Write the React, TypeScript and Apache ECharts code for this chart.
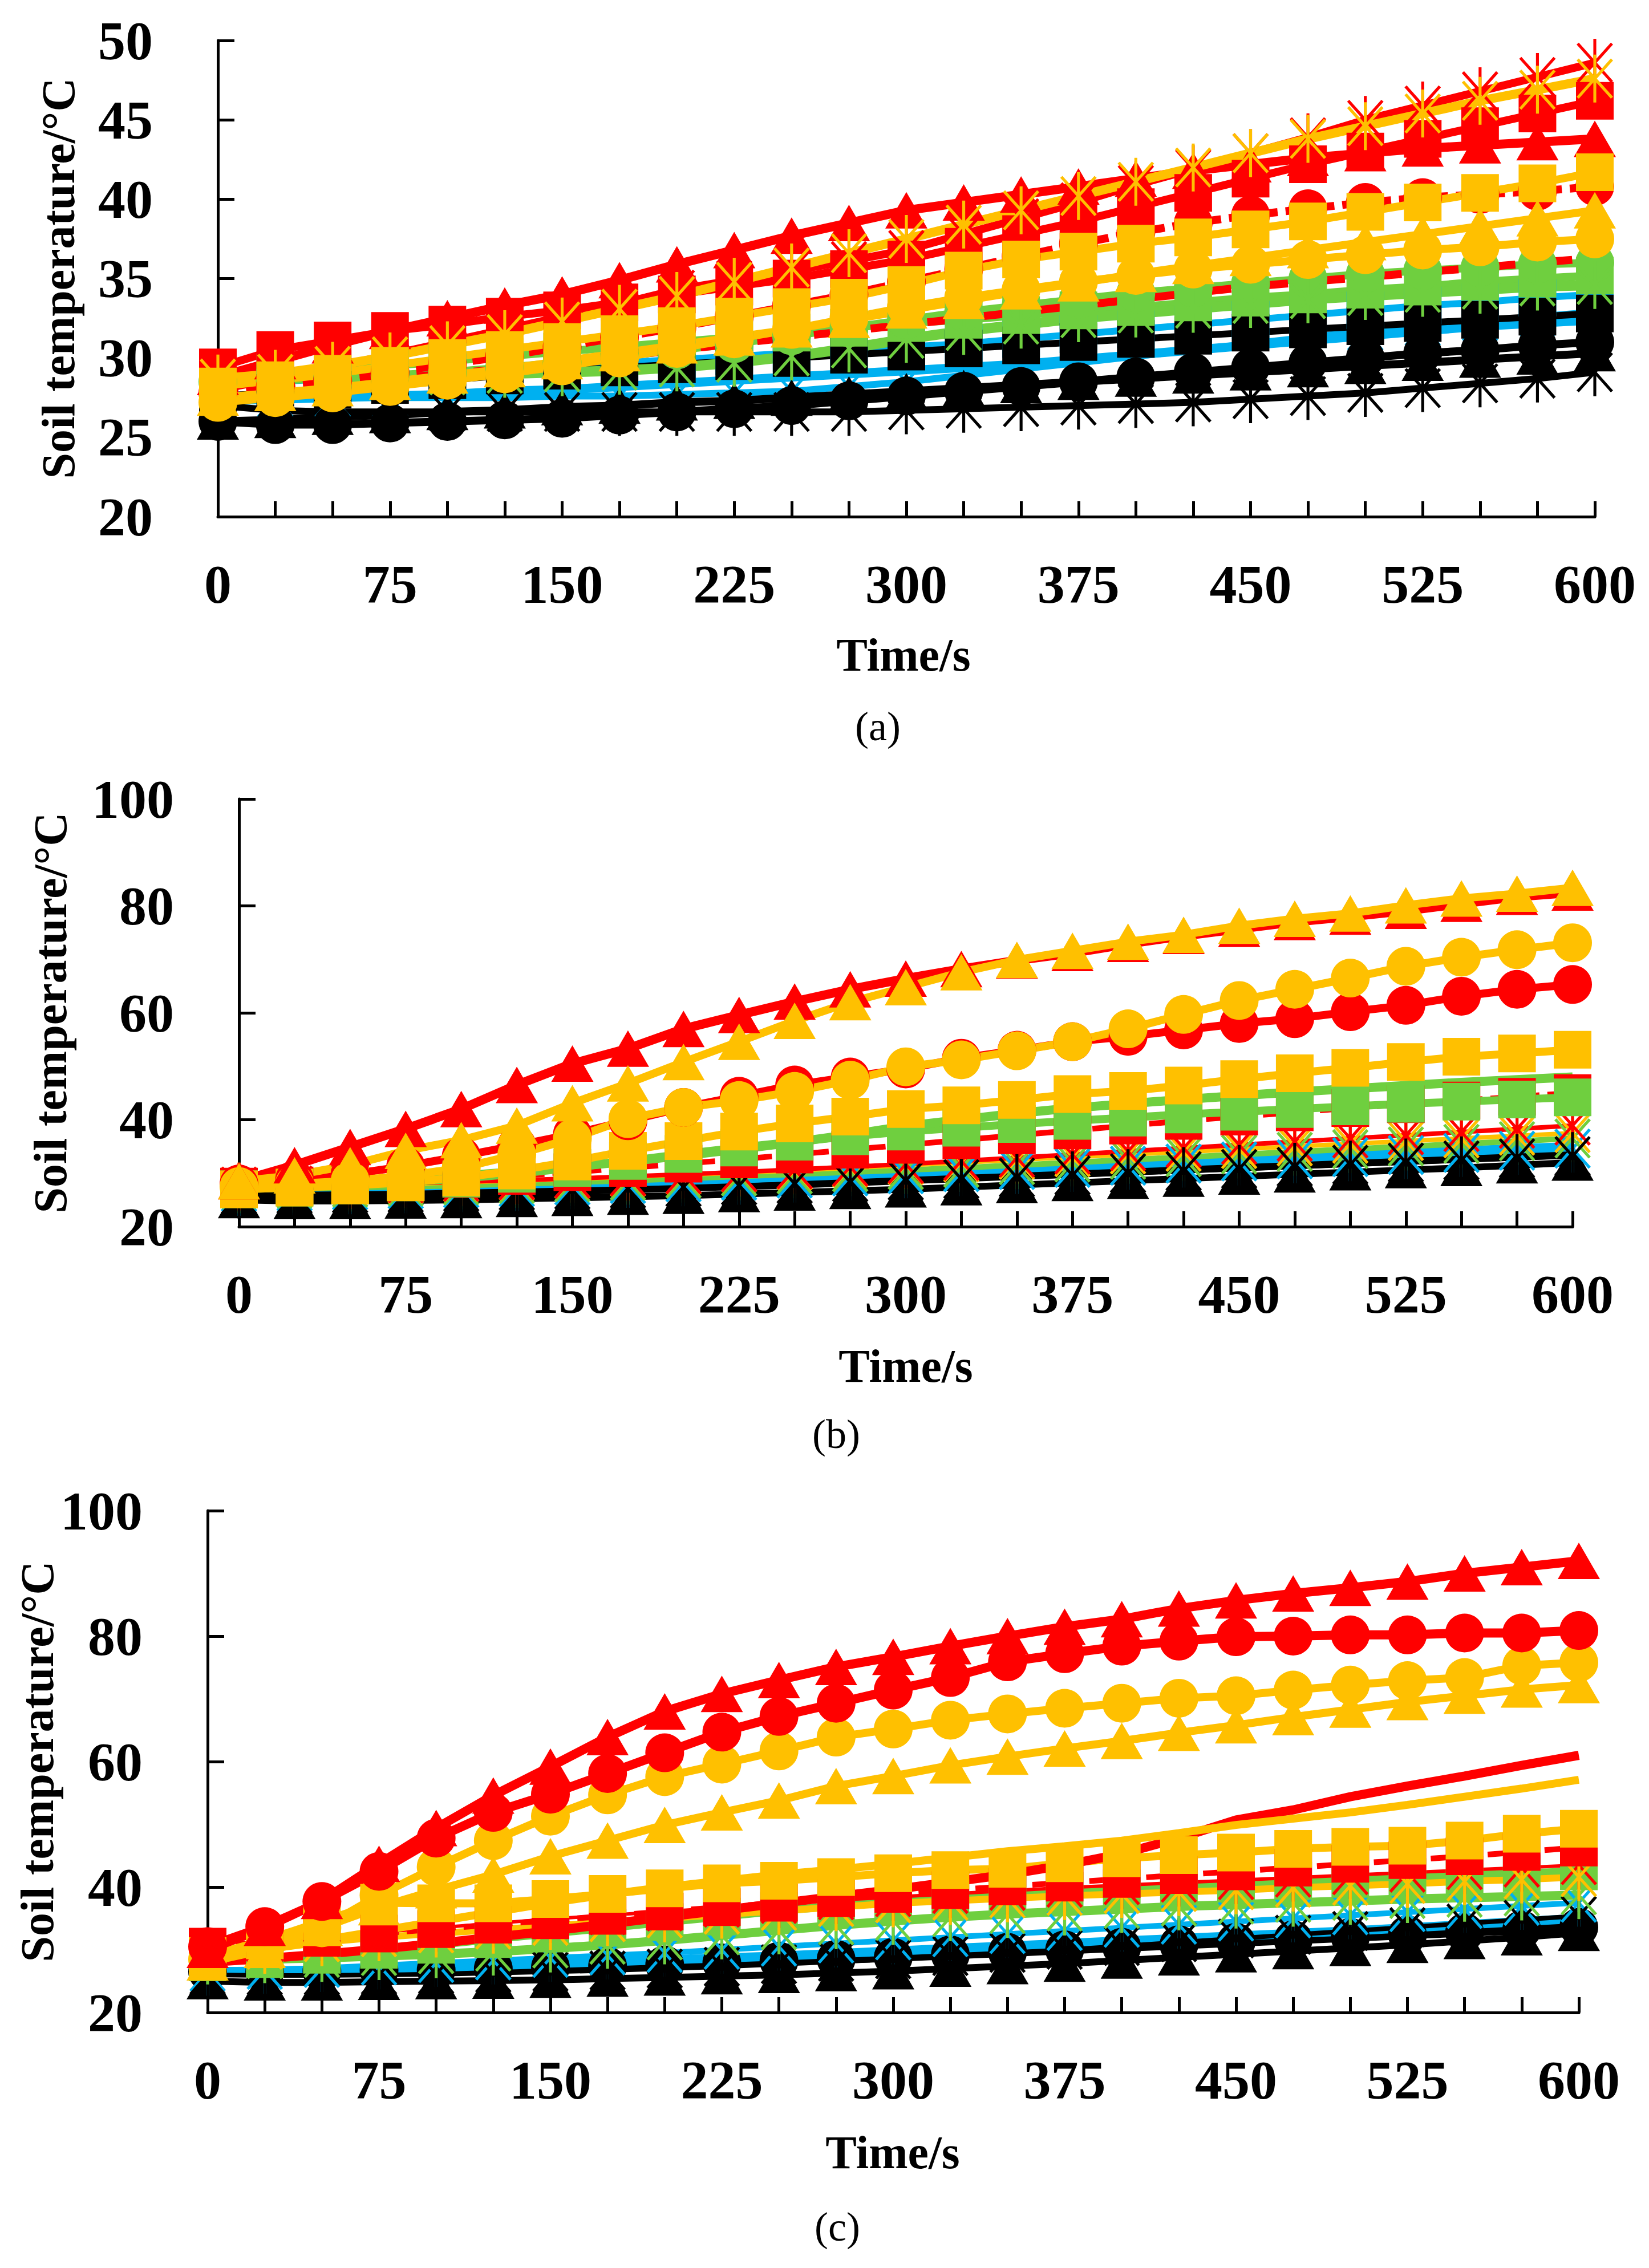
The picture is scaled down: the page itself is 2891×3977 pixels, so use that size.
import React, { useEffect, useRef } from 'react';
import * as echarts from 'echarts';

// sampling times (s), one marker every 25 s
const TIMES = [0, 25, 50, 75, 100, 125, 150, 175, 200, 225, 250, 275, 300, 325, 350, 375, 400, 425, 450, 475, 500, 525, 550, 575, 600];
const X_LABEL_STEP = 75;

// ---------- panel (a) ----------
const aRedStar = [28.0, 28.7, 29.4, 30.2, 31.0, 31.8, 32.6, 33.4, 34.3, 34.9, 35.5, 36.1, 36.8, 37.8, 38.8, 39.8, 40.9, 41.9, 42.9, 43.9, 45.0, 45.9, 46.8, 47.7, 48.6];
const aYellowStar = [28.7, 29.0, 29.5, 30.1, 30.8, 31.5, 32.3, 33.1, 33.9, 34.8, 35.7, 36.6, 37.5, 38.4, 39.3, 40.2, 41.1, 42.0, 42.9, 43.8, 44.6, 45.4, 46.2, 46.9, 47.6];
const aRedTri = [28.8, 29.8, 30.8, 31.7, 32.5, 33.3, 34.0, 34.9, 35.9, 36.8, 37.7, 38.5, 39.3, 39.8, 40.3, 40.8, 41.3, 41.8, 42.2, 42.6, 42.9, 43.2, 43.4, 43.6, 43.8];
const aRedSquare = [29.4, 30.5, 31.1, 31.7, 32.1, 32.6, 33.0, 33.5, 34.0, 34.5, 35.0, 35.6, 36.2, 37.0, 37.8, 38.6, 39.5, 40.4, 41.3, 42.2, 43.0, 43.8, 44.6, 45.4, 46.2];
const aRedCircle = [27.8, 28.2, 28.6, 29.1, 29.6, 30.1, 30.7, 31.3, 31.9, 32.6, 33.3, 34.0, 34.8, 35.6, 36.4, 37.2, 37.9, 38.5, 39.0, 39.4, 39.8, 40.1, 40.3, 40.5, 40.8];
const aRedDash = [27.8, 28.1, 28.4, 28.7, 29.0, 29.3, 29.7, 30.1, 30.5, 30.9, 31.3, 31.7, 32.1, 32.5, 32.9, 33.3, 33.7, 34.1, 34.5, 34.8, 35.1, 35.4, 35.7, 36.0, 36.3];
const aYellowSquare = [28.2, 28.6, 29.0, 29.5, 30.0, 30.5, 31.0, 31.5, 32.0, 32.6, 33.2, 33.8, 34.6, 35.5, 36.2, 36.7, 37.2, 37.6, 38.1, 38.6, 39.2, 39.8, 40.4, 41.0, 41.7];
const aYellowTri = [27.5, 27.8, 28.1, 28.5, 28.9, 29.3, 29.8, 30.3, 30.8, 31.3, 31.8, 32.4, 33.0, 33.6, 34.2, 34.7, 35.3, 35.8, 36.3, 36.8, 37.3, 37.8, 38.3, 38.8, 39.3];
const aYellowCircle = [27.2, 27.5, 27.8, 28.2, 28.6, 29.0, 29.5, 30.0, 30.6, 31.2, 31.8, 32.5, 33.2, 33.8, 34.3, 34.8, 35.2, 35.6, 35.9, 36.2, 36.5, 36.8, 37.0, 37.3, 37.5];
const aGreenCircle = [28.5, 28.6, 28.7, 28.9, 29.1, 29.4, 29.7, 30.1, 30.5, 30.9, 31.4, 31.9, 32.4, 32.9, 33.3, 33.7, 34.1, 34.4, 34.7, 35.0, 35.3, 35.5, 35.7, 35.9, 36.0];
const aGreenSquare = [29.0, 29.1, 29.3, 29.5, 29.8, 30.1, 30.4, 30.7, 31.0, 31.3, 31.6, 31.9, 32.2, 32.4, 32.7, 33.0, 33.2, 33.5, 33.8, 34.0, 34.3, 34.5, 34.8, 35.0, 35.2];
const aGreenStar = [28.7, 28.7, 28.8, 28.8, 28.9, 29.0, 29.1, 29.2, 29.4, 29.7, 30.1, 30.6, 31.2, 31.7, 32.1, 32.5, 32.8, 33.1, 33.4, 33.7, 33.9, 34.1, 34.3, 34.5, 34.6];
const aBlueSquare = [28.3, 28.5, 28.7, 28.9, 29.1, 29.3, 29.5, 29.7, 29.9, 30.1, 30.3, 30.5, 30.7, 30.9, 31.2, 31.5, 31.8, 32.1, 32.4, 32.7, 33.0, 33.3, 33.5, 33.8, 34.0];
const aBlueStar = [27.5, 27.5, 27.5, 27.5, 27.5, 27.5, 27.6, 27.6, 27.7, 27.8, 27.9, 28.2, 28.5, 28.9, 29.3, 29.7, 30.1, 30.5, 30.9, 31.3, 31.7, 32.0, 32.3, 32.6, 32.9];
const aBlueLine = [27.3, 27.4, 27.5, 27.6, 27.7, 27.9, 28.0, 28.2, 28.4, 28.6, 28.8, 29.0, 29.2, 29.4, 29.6, 29.9, 30.2, 30.5, 30.8, 31.1, 31.4, 31.7, 32.0, 32.2, 32.4];
const aBlackSquare = [27.6, 27.8, 28.0, 28.3, 28.6, 28.9, 29.2, 29.4, 29.6, 29.8, 30.0, 30.2, 30.4, 30.6, 30.8, 31.0, 31.2, 31.4, 31.6, 31.8, 32.0, 32.2, 32.4, 32.6, 32.8];
const aBlackCircle = [26.0, 25.8, 25.8, 25.9, 26.0, 26.1, 26.2, 26.4, 26.6, 26.8, 27.0, 27.3, 27.6, 27.9, 28.2, 28.5, 28.8, 29.1, 29.4, 29.7, 30.0, 30.3, 30.5, 30.8, 31.0];
const aBlackTri = [26.0, 26.1, 26.3, 26.4, 26.6, 26.7, 26.9, 27.0, 27.2, 27.3, 27.5, 27.7, 27.9, 28.1, 28.3, 28.5, 28.7, 28.9, 29.1, 29.3, 29.5, 29.7, 29.9, 30.1, 30.3];
const aBlackStar = [27.0, 26.7, 26.6, 26.6, 26.6, 26.6, 26.6, 26.6, 26.6, 26.6, 26.6, 26.6, 26.7, 26.8, 26.9, 27.0, 27.1, 27.2, 27.4, 27.6, 27.8, 28.1, 28.4, 28.7, 29.1];

// ---------- panel (b) ----------
const bRedTri = [28.5, 31.5, 34.9, 38.3, 42.0, 46.5, 50.5, 53.3, 57.0, 59.6, 62.1, 64.4, 66.4, 68.2, 69.8, 71.2, 72.9, 74.4, 75.7, 77.0, 78.0, 79.1, 80.4, 81.7, 82.5];
const bYellowTri = [28.5, 29.6, 31.5, 34.2, 36.2, 38.9, 43.1, 46.8, 50.8, 54.6, 58.5, 62.0, 64.8, 67.6, 69.9, 71.6, 73.3, 74.6, 76.3, 77.6, 78.6, 80.1, 81.4, 82.3, 83.4];
const bRedCircle = [28.0, 28.8, 29.8, 31.3, 33.2, 35.2, 37.3, 39.8, 42.3, 44.4, 46.5, 48.0, 49.5, 51.5, 53.0, 54.6, 55.6, 56.8, 58.0, 58.9, 60.2, 61.4, 63.1, 64.4, 65.3];
const bYellowCircle = [27.5, 28.0, 28.6, 29.5, 31.0, 33.5, 36.5, 40.2, 42.3, 43.6, 45.3, 47.4, 49.9, 51.2, 52.9, 54.6, 57.0, 59.7, 62.3, 64.4, 66.5, 68.7, 70.4, 71.8, 73.1];
const bYellowSquare = [27.0, 27.3, 27.7, 28.3, 29.2, 30.5, 32.2, 34.2, 36.0, 37.8, 39.3, 40.6, 42.0, 42.7, 43.7, 44.8, 45.4, 46.4, 47.6, 48.7, 49.7, 50.8, 51.8, 52.4, 53.1];
const bRedSquare = [27.5, 27.7, 28.0, 28.4, 28.9, 29.5, 30.2, 31.0, 31.8, 32.6, 33.5, 34.4, 35.3, 36.2, 37.1, 38.0, 38.9, 39.8, 40.6, 41.4, 42.2, 42.9, 43.6, 44.3, 45.0];
const bGreenLine = [27.5, 27.8, 28.2, 28.8, 29.5, 30.3, 31.2, 32.2, 33.3, 34.5, 35.8, 37.2, 38.8, 40.0, 41.2, 42.2, 43.0, 43.8, 44.5, 45.2, 45.8, 46.4, 47.0, 47.5, 48.0];
const bGreenSquare = [27.0, 27.3, 27.7, 28.3, 29.0, 29.9, 31.0, 32.3, 33.6, 34.8, 35.9, 36.9, 37.8, 38.5, 39.2, 39.8, 40.4, 41.0, 41.5, 42.0, 42.5, 43.0, 43.4, 43.8, 44.2];
const bRedStar = [27.5, 27.7, 27.9, 28.1, 28.4, 28.7, 29.0, 29.4, 29.8, 30.2, 30.7, 31.2, 31.7, 32.3, 32.9, 33.5, 34.1, 34.7, 35.3, 35.9, 36.5, 37.1, 37.7, 38.3, 38.9];
const bYellowStar = [27.5, 27.6, 27.8, 28.0, 28.3, 28.6, 28.9, 29.3, 29.7, 30.1, 30.5, 31.0, 31.5, 32.0, 32.5, 33.0, 33.5, 34.0, 34.5, 35.0, 35.5, 36.0, 36.5, 37.0, 37.5];
const bGreenStar = [27.0, 27.1, 27.3, 27.5, 27.7, 28.0, 28.3, 28.6, 29.0, 29.4, 29.8, 30.2, 30.6, 31.0, 31.5, 32.0, 32.5, 33.0, 33.5, 34.0, 34.5, 35.0, 35.5, 36.0, 36.5];
const bBlueStar = [26.5, 26.6, 26.8, 27.0, 27.2, 27.4, 27.7, 28.0, 28.3, 28.6, 29.0, 29.4, 29.8, 30.2, 30.6, 31.0, 31.4, 31.8, 32.2, 32.6, 33.0, 33.4, 33.8, 34.2, 34.6];
const bBlueLine = [27.0, 27.1, 27.2, 27.4, 27.6, 27.8, 28.1, 28.4, 28.7, 29.0, 29.4, 29.8, 30.2, 30.6, 31.0, 31.4, 31.8, 32.2, 32.6, 33.0, 33.4, 33.8, 34.2, 34.6, 35.0];
const bBlackStar = [26.0, 26.1, 26.2, 26.3, 26.5, 26.7, 26.9, 27.1, 27.4, 27.7, 28.0, 28.3, 28.6, 28.9, 29.2, 29.6, 30.0, 30.4, 30.8, 31.2, 31.6, 32.0, 32.4, 32.8, 33.2];
const bBlackTri = [25.0, 24.8, 24.8, 24.9, 25.0, 25.2, 25.4, 25.6, 25.8, 26.1, 26.4, 26.7, 27.0, 27.4, 27.8, 28.2, 28.6, 29.0, 29.4, 29.8, 30.2, 30.6, 31.0, 31.5, 32.0];
const bBlackLine = [25.8, 25.9, 26.0, 26.2, 26.4, 26.6, 26.8, 27.1, 27.4, 27.7, 28.0, 28.4, 28.8, 29.2, 29.6, 30.0, 30.4, 30.8, 31.2, 31.6, 32.0, 32.4, 32.8, 33.2, 33.6];

// ---------- panel (c) ----------
const cRedTri = [30.0, 33.5, 37.8, 43.7, 49.4, 54.6, 59.2, 63.9, 68.0, 70.8, 73.0, 75.1, 76.7, 78.4, 80.0, 81.5, 82.7, 84.4, 85.7, 86.8, 87.7, 88.7, 90.0, 91.0, 92.0];
const cRedCircle = [30.5, 33.7, 37.7, 42.5, 47.8, 51.9, 54.8, 58.1, 61.4, 64.7, 67.2, 69.3, 71.4, 73.4, 75.9, 77.2, 78.4, 79.2, 79.9, 80.0, 80.2, 80.2, 80.5, 80.5, 80.9];
const cYellowCircle = [28.5, 30.5, 33.5, 38.7, 43.2, 47.4, 51.3, 54.7, 57.6, 59.6, 61.7, 63.9, 65.2, 66.6, 67.6, 68.5, 69.3, 70.1, 70.5, 71.4, 72.2, 72.9, 73.4, 75.3, 75.8];
const cYellowTri = [28.0, 30.0, 33.5, 36.8, 39.5, 42.0, 44.9, 47.4, 49.9, 51.9, 53.8, 56.1, 57.7, 59.4, 60.8, 62.1, 63.3, 64.6, 65.8, 67.1, 68.3, 69.5, 70.5, 71.5, 72.2];
const cRedLine = [28.0, 28.6, 29.3, 30.1, 31.0, 32.0, 33.0, 34.1, 35.2, 36.3, 37.4, 38.5, 39.6, 40.8, 42.0, 43.5, 45.3, 47.8, 50.7, 52.3, 54.4, 56.1, 57.7, 59.4, 61.0];
const cYellowLine = [28.5, 30.0, 31.5, 33.0, 34.5, 36.0, 37.5, 38.8, 40.0, 41.0, 42.0, 42.8, 43.7, 44.7, 45.7, 46.5, 47.4, 48.6, 49.9, 50.9, 51.9, 53.1, 54.4, 55.7, 57.1];
const cYellowSquare = [29.0, 31.5, 34.5, 37.5, 37.4, 37.4, 38.1, 38.9, 39.8, 40.6, 41.0, 41.6, 42.2, 42.7, 42.9, 43.8, 44.6, 45.1, 45.5, 46.1, 46.4, 46.6, 47.4, 48.5, 49.3];
const cRedSquare = [30.5, 31.2, 31.9, 32.6, 33.3, 34.0, 34.7, 35.4, 36.1, 36.8, 37.5, 38.2, 38.9, 39.5, 40.1, 40.7, 41.3, 41.9, 42.5, 43.1, 43.7, 44.3, 44.9, 45.6, 46.3];
const cGreenSquare = [28.0, 28.5, 29.2, 30.0, 30.8, 31.7, 32.6, 33.5, 34.4, 35.3, 36.2, 37.0, 37.7, 38.3, 38.9, 39.4, 39.8, 40.2, 40.6, 41.0, 41.3, 41.6, 41.9, 42.2, 42.5];
const cGreenStar = [28.3, 28.5, 28.7, 29.0, 29.3, 29.7, 30.2, 30.8, 31.5, 32.3, 33.1, 33.9, 34.6, 35.2, 35.7, 36.1, 36.5, 36.9, 37.2, 37.5, 37.8, 38.1, 38.3, 38.5, 38.7];
const cYellowStar = [29.0, 30.0, 31.2, 32.0, 32.6, 33.2, 33.8, 34.4, 35.0, 35.6, 36.2, 36.8, 37.4, 37.8, 38.2, 38.6, 38.9, 39.2, 39.5, 39.9, 40.2, 40.5, 40.9, 41.2, 41.6];
const cRedStar = [29.5, 31.0, 32.0, 32.8, 33.5, 34.2, 34.9, 35.5, 36.1, 36.7, 37.3, 37.9, 38.4, 38.9, 39.4, 39.9, 40.3, 40.7, 41.1, 41.5, 41.9, 42.3, 42.7, 43.1, 43.5];
const cBlueStar = [26.5, 26.8, 27.1, 27.5, 27.9, 28.3, 28.7, 29.1, 29.5, 30.0, 30.5, 31.0, 31.5, 32.0, 32.5, 33.0, 33.5, 34.0, 34.5, 35.0, 35.5, 36.0, 36.5, 37.0, 37.5];
const cBlueLine = [26.5, 26.6, 26.8, 27.0, 27.2, 27.5, 27.8, 28.1, 28.4, 28.7, 29.0, 29.4, 29.8, 30.2, 30.6, 31.0, 31.4, 31.8, 32.2, 32.6, 33.0, 33.5, 34.0, 34.5, 35.0];
const cBlackTri = [25.0, 24.8, 24.8, 24.9, 25.0, 25.1, 25.2, 25.4, 25.6, 25.8, 26.0, 26.3, 26.6, 27.0, 27.4, 27.8, 28.3, 28.8, 29.3, 29.8, 30.3, 30.8, 31.4, 32.0, 32.7];
const cBlackStar = [26.0, 25.9, 25.9, 26.0, 26.1, 26.3, 26.5, 26.7, 27.0, 27.3, 27.7, 28.1, 28.5, 29.0, 29.5, 30.0, 30.6, 31.2, 31.8, 32.4, 33.0, 33.6, 34.2, 34.8, 35.4];
const cBlackLine = [26.5, 26.5, 26.6, 26.7, 26.8, 27.0, 27.2, 27.4, 27.6, 27.9, 28.2, 28.5, 28.8, 29.2, 29.6, 30.0, 30.4, 30.8, 31.2, 31.6, 32.0, 32.4, 32.8, 33.2, 33.6];

const RED = '#FF0000';
const YELLOW = '#FFC000';
const GREEN = '#6FCF3F';
const BLUE = '#00B0F0';
const BLACK = '#000000';

// Excel-like "*" marker: one vertical and two slanted strokes
const ASTERISK =
  'path://M47,0L53,0L53,100L47,100Z M17.3,8L87.3,88L82.7,92L12.7,12Z M87.3,12L17.3,92L12.7,88L82.7,8Z';

const MARKERS: Record<string, { symbol: string; size: number | number[] } | null> = {
  tri: { symbol: 'triangle', size: [74, 64] },
  circle: { symbol: 'circle', size: 68 },
  square: { symbol: 'rect', size: 66 },
  star: { symbol: ASTERISK, size: [64, 84] },
  none: null,
};

type Spec = { values: number[]; color: string; marker: string; width: number; dashed?: boolean };

// draw order: first entries end up underneath
const PANEL_A: Spec[] = [
  { values: aBlueLine, color: BLUE, marker: 'none', width: 16 },
  { values: aBlueSquare, color: BLUE, marker: 'square', width: 12 },
  { values: aBlueStar, color: BLUE, marker: 'star', width: 12 },
  { values: aBlackCircle, color: BLACK, marker: 'circle', width: 14 },
  { values: aBlackTri, color: BLACK, marker: 'tri', width: 14 },
  { values: aBlackSquare, color: BLACK, marker: 'square', width: 12 },
  { values: aBlackStar, color: BLACK, marker: 'star', width: 12 },
  { values: aGreenSquare, color: GREEN, marker: 'square', width: 14 },
  { values: aGreenCircle, color: GREEN, marker: 'circle', width: 14 },
  { values: aGreenStar, color: GREEN, marker: 'star', width: 18 },
  { values: aRedDash, color: RED, marker: 'none', width: 14, dashed: true },
  { values: aRedCircle, color: RED, marker: 'circle', width: 14, dashed: true },
  { values: aRedSquare, color: RED, marker: 'square', width: 14 },
  { values: aRedTri, color: RED, marker: 'tri', width: 16 },
  { values: aRedStar, color: RED, marker: 'star', width: 14 },
  { values: aYellowCircle, color: YELLOW, marker: 'circle', width: 14 },
  { values: aYellowTri, color: YELLOW, marker: 'tri', width: 14 },
  { values: aYellowSquare, color: YELLOW, marker: 'square', width: 14 },
  { values: aYellowStar, color: YELLOW, marker: 'star', width: 16 },
];

const PANEL_B: Spec[] = [
  { values: bBlackLine, color: BLACK, marker: 'none', width: 16 },
  { values: bBlackTri, color: BLACK, marker: 'tri', width: 12 },
  { values: bBlueLine, color: BLUE, marker: 'none', width: 16 },
  { values: bBlueStar, color: BLUE, marker: 'star', width: 10 },
  { values: bGreenStar, color: GREEN, marker: 'star', width: 10 },
  { values: bYellowStar, color: YELLOW, marker: 'star', width: 8 },
  { values: bRedStar, color: RED, marker: 'star', width: 8 },
  { values: bBlackStar, color: BLACK, marker: 'star', width: 8 },
  { values: bRedSquare, color: RED, marker: 'square', width: 10, dashed: true },
  { values: bGreenSquare, color: GREEN, marker: 'square', width: 14 },
  { values: bGreenLine, color: GREEN, marker: 'none', width: 16 },
  { values: bYellowSquare, color: YELLOW, marker: 'square', width: 14 },
  { values: bRedCircle, color: RED, marker: 'circle', width: 14 },
  { values: bYellowCircle, color: YELLOW, marker: 'circle', width: 14 },
  { values: bRedTri, color: RED, marker: 'tri', width: 16 },
  { values: bYellowTri, color: YELLOW, marker: 'tri', width: 14 },
];

const PANEL_C: Spec[] = [
  { values: cBlackLine, color: BLACK, marker: 'circle', width: 16 },
  { values: cBlackTri, color: BLACK, marker: 'tri', width: 12 },
  { values: cBlueLine, color: BLUE, marker: 'none', width: 16 },
  { values: cBlueStar, color: BLUE, marker: 'star', width: 10 },
  { values: cBlackStar, color: BLACK, marker: 'star', width: 8 },
  { values: cGreenStar, color: GREEN, marker: 'star', width: 16 },
  { values: cGreenSquare, color: GREEN, marker: 'square', width: 14 },
  { values: cRedStar, color: RED, marker: 'star', width: 6 },
  { values: cYellowStar, color: YELLOW, marker: 'star', width: 12 },
  { values: cRedSquare, color: RED, marker: 'square', width: 10, dashed: true },
  { values: cYellowSquare, color: YELLOW, marker: 'square', width: 14 },
  { values: cRedLine, color: RED, marker: 'none', width: 16 },
  { values: cYellowLine, color: YELLOW, marker: 'none', width: 14 },
  { values: cYellowTri, color: YELLOW, marker: 'tri', width: 14 },
  { values: cYellowCircle, color: YELLOW, marker: 'circle', width: 14 },
  { values: cRedCircle, color: RED, marker: 'circle', width: 16 },
  { values: cRedTri, color: RED, marker: 'tri', width: 16 },
];

const PANELS = [
  { specs: PANEL_A, yMin: 20, yMax: 50, yStep: 5, grid: { left: 382, top: 71, width: 2414, height: 835 } },
  { specs: PANEL_B, yMin: 20, yMax: 100, yStep: 20, grid: { left: 419, top: 1401, width: 2338, height: 750 } },
  { specs: PANEL_C, yMin: 20, yMax: 100, yStep: 20, grid: { left: 364, top: 2649, width: 2404, height: 880 } },
];

const PANEL_LABELS = ['(a)', '(b)', '(c)'];
const Y_TITLE = 'Soil temperature/°C';
const X_TITLE = 'Time/s';

const FONT = '"Liberation Serif", "Times New Roman", serif';

const App: React.FC = () => {
  const chartRef = useRef<HTMLDivElement>(null);

  useEffect(() => {
    if (!chartRef.current) return;
    const chart = echarts.init(chartRef.current, undefined, { renderer: 'svg' });

    const axisLine = { show: true, lineStyle: { color: '#000', width: 5 } };
    const labelStyle = { color: '#000', fontFamily: FONT, fontWeight: 'bold' as const, fontSize: 96 };

    const grids = PANELS.map(p => ({ ...p.grid, containLabel: false }));

    const xAxes = PANELS.map((p, i) => ({
      type: 'value' as const,
      gridIndex: i,
      min: 0,
      max: 600,
      interval: 25,
      axisLine,
      axisTick: { show: true, inside: true, length: 27, lineStyle: { color: '#000', width: 5 } },
      splitLine: { show: false },
      axisLabel: {
        ...labelStyle,
        margin: 70,
        formatter: (v: number) => (v % X_LABEL_STEP === 0 ? String(v) : ''),
      },
    }));

    const yAxes = PANELS.map((p, i) => ({
      type: 'value' as const,
      gridIndex: i,
      min: p.yMin,
      max: p.yMax,
      interval: p.yStep,
      axisLine,
      axisTick: { show: true, inside: true, length: 29, lineStyle: { color: '#000', width: 5 } },
      splitLine: { show: false },
      axisLabel: { ...labelStyle, margin: 114 },
    }));

    const series: any[] = [];
    PANELS.forEach((p, gi) => {
      p.specs.forEach(s => {
        const m = MARKERS[s.marker];
        series.push({
          type: 'line',
          xAxisIndex: gi,
          yAxisIndex: gi,
          data: TIMES.map((t, k) => [t, s.values[k]]),
          showSymbol: !!m,
          showAllSymbol: true,
          symbol: m ? m.symbol : 'none',
          symbolSize: m ? m.size : 0,
          symbolKeepAspect: false,
          clip: false,
          silent: true,
          lineStyle: {
            color: s.color,
            width: s.width,
            type: s.dashed ? [36, 14] : 'solid',
            cap: 'butt',
          },
          itemStyle: { color: s.color, borderWidth: 0 },
        });
      });
    });

    const centers = [
      { yTitle: [102, 488], xTitle: [1584, 1148], label: [1539, 1274] },
      { yTitle: [88, 1776], xTitle: [1588, 2395], label: [1466, 2515] },
      { yTitle: [65, 3089], xTitle: [1565, 3774], label: [1468, 3905] },
    ];

    const graphic: any[] = [];
    centers.forEach((c, i) => {
      graphic.push({
        type: 'text',
        x: c.yTitle[0],
        y: c.yTitle[1],
        rotation: Math.PI / 2,
        style: {
          text: Y_TITLE,
          fill: '#000',
          font: `bold 82px ${FONT}`,
          textAlign: 'center',
          textVerticalAlign: 'middle',
        },
      });
      graphic.push({
        type: 'text',
        x: c.xTitle[0],
        y: c.xTitle[1],
        style: {
          text: X_TITLE,
          fill: '#000',
          font: `bold 82px ${FONT}`,
          textAlign: 'center',
          textVerticalAlign: 'middle',
        },
      });
      graphic.push({
        type: 'text',
        x: c.label[0],
        y: c.label[1],
        style: {
          text: PANEL_LABELS[i],
          fill: '#000',
          font: `72px ${FONT}`,
          textAlign: 'center',
          textVerticalAlign: 'middle',
        },
      });
    });

    chart.setOption({
      animation: false,
      backgroundColor: '#ffffff',
      grid: grids,
      xAxis: xAxes,
      yAxis: yAxes,
      series,
      graphic,
    });

    return () => {
      chart.dispose();
    };
  }, []);

  return (
    <div
      ref={chartRef}
      style={{ position: 'absolute', left: 0, top: 0, width: '2891px', height: '3977px', background: '#fff' }}
    />
  );
};

export default App;
